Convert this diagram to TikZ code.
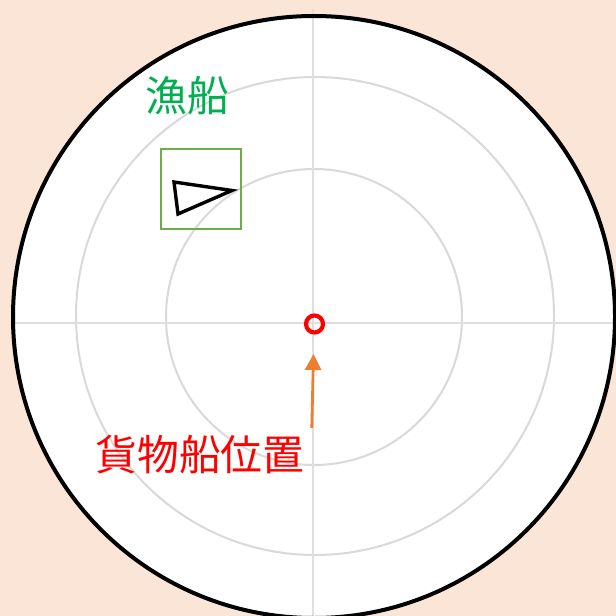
\documentclass[tikz,border=0pt]{standalone}
\usepackage{fontspec}
\newfontfamily\cjk{Noto Sans CJK JP}
\usetikzlibrary{arrows.meta}
\definecolor{bgpeach}{HTML}{FBE5D6}
\definecolor{gridgrey}{HTML}{D9D9D9}
\definecolor{boxgreen}{HTML}{70AD47}
\definecolor{txtgreen}{HTML}{00B050}
\definecolor{arrorange}{HTML}{ED7D31}
\tikzset{
  ring/.style={draw=gridgrey, line width=2bp},
  crossline/.style={draw=gridgrey!85, line width=1.6bp},
  biglabel/.style={font=\cjk\fontsize{42}{50}\selectfont, inner sep=0pt, anchor=base},
}
\begin{document}
\begin{tikzpicture}[x=1bp,y=-1bp]
\fill[bgpeach] (0,0) rectangle (616,616);
\useasboundingbox (0,0) rectangle (616,616);
% radar disc
\begin{scope}
\clip (0,0) rectangle (616,616);
\fill[white] (314,317) circle [radius=301];
\draw[ring] (314,317) circle [radius=148];
\draw[ring] (315,316) circle [radius=239];
\draw[crossline] (313,9) -- (313,616);
\draw[crossline] (12,323) -- (616,323);
\draw[black, line width=4bp] (314,317) circle [radius=301];
\end{scope}
% fishing boat
\node[draw=boxgreen, line width=2.2bp, minimum width=80bp, minimum height=80bp, inner sep=0pt] (box) at (201,189) {};
\coordinate (t1) at (174,182);
\coordinate (t2) at (178,214);
\coordinate (t3) at (232,190.5);
\draw[black, line width=3.4bp, line join=miter] (t1) -- (t3) -- (t2) -- cycle;
\node[biglabel, text=txtgreen] (fish) at (187,112) {漁船};
% cargo ship marker
\node[draw=red, line width=4.2bp, circle, minimum size=17bp, inner sep=0pt] (ship) at (314.5,324) {};
\coordinate (tail) at (311.8,428);
\coordinate (tip) at (313.5,354);
\draw[arrorange, line width=2.8bp, -{Triangle[length=16bp, width=16bp]}] (tail) -- (tip);
\node[biglabel, text=red] (cargo) at (200,470) {貨物船位置};
\end{tikzpicture}
\end{document}
